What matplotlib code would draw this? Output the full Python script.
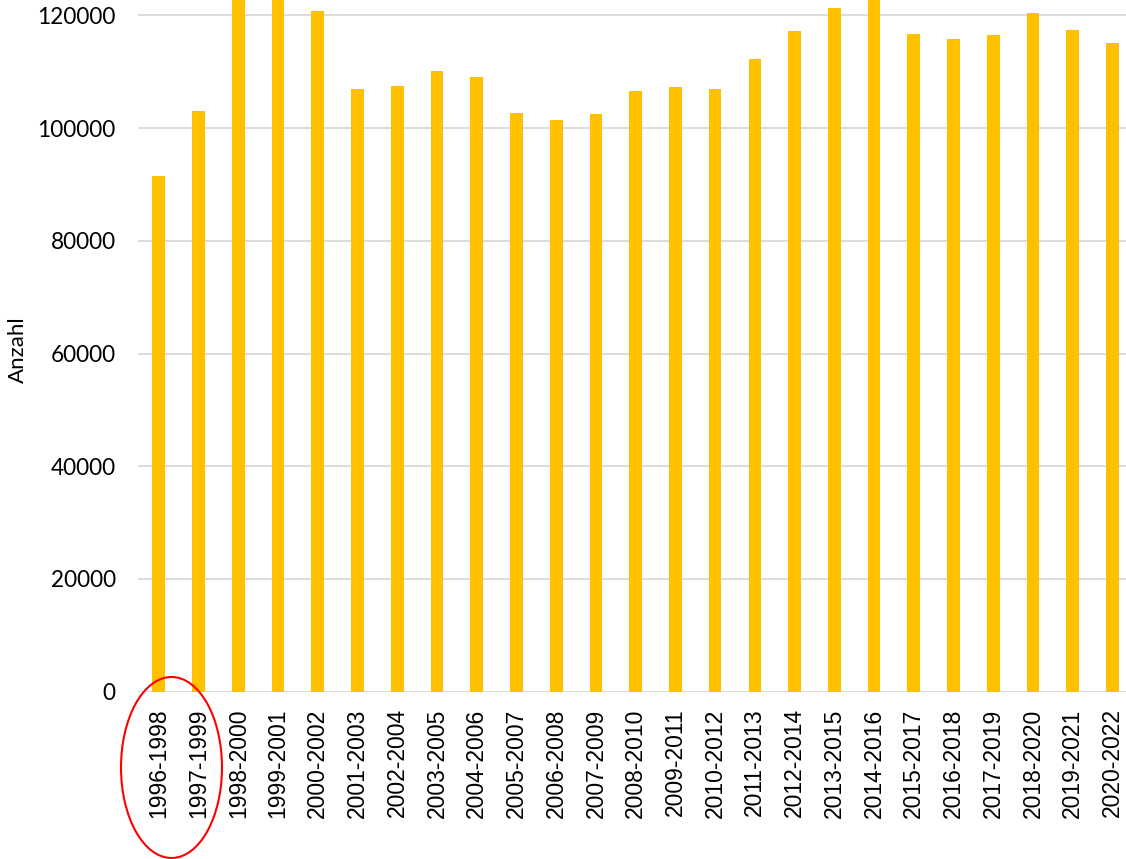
import matplotlib.pyplot as plt
from matplotlib.patches import Ellipse

zeitraum = ['1996-1998', '1997-1999', '1998-2000', '1999-2001', '2000-2002',
            '2001-2003', '2002-2004', '2003-2005', '2004-2006', '2005-2007',
            '2006-2008', '2007-2009', '2008-2010', '2009-2011', '2010-2012',
            '2011-2013', '2012-2014', '2013-2015', '2014-2016', '2015-2017',
            '2016-2018', '2017-2019', '2018-2020', '2019-2021', '2020-2022']
# 1998-2000, 1999-2001 and 2014-2016 run off the top of the picture; values guessed
anzahl = [91500, 103050, 126000, 124500, 120800,
          106950, 107500, 110150, 109100, 102700,
          101450, 102500, 106600, 107300, 106950,
          112300, 117250, 121330, 124000, 116700,
          115830, 116550, 120450, 117500, 115100]
yticks = [0, 20000, 40000, 60000, 80000, 100000, 120000]

W, H = 1126, 859
fig = plt.figure(figsize=(W / 100, H / 100), dpi=100)
ax = fig.add_axes([138 / W, (H - 691.7) / H, (W - 138) / W, 691.7 / H])

x = list(range(len(zeitraum)))
ax.bar(x, anzahl, width=0.32, color='#FFC000', zorder=3)

ax.set_ylim(0, 122750)
ax.set_xlim(-0.524, len(zeitraum) - 1 + 0.34)
ax.set_yticks(yticks)
ax.set_yticklabels([str(v) for v in yticks], fontfamily='Lato', fontsize=16.3)
ax.set_xticks(x)
ax.set_xticklabels(zeitraum, rotation=90, fontfamily='Liberation Sans', fontsize=16.5)
ax.tick_params(axis='y', length=0, pad=16)
ax.tick_params(axis='x', length=0, pad=12)

ax.grid(axis='y', color='#d9d9d9', linewidth=1.3, zorder=0)
for s in ax.spines.values():
    s.set_visible(False)

fig.text(18 / W, 1 - 350 / H, 'Anzahl', rotation=90, fontfamily='Lato',
         fontsize=16, ha='center', va='center')

# red circle around the first two periods
ell = Ellipse((171.5 / W, 1 - 767.5 / H), 101 / W, 181 / H,
              transform=fig.transFigure, fill=False, edgecolor='red',
              linewidth=1.5, clip_on=False)
fig.patches.append(ell)

fig.savefig('out.png', dpi=100)
